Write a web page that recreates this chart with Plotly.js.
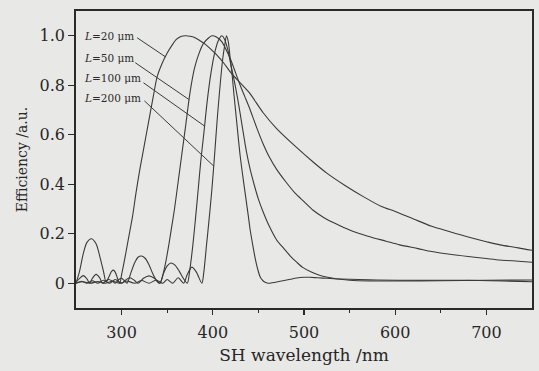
<!DOCTYPE html>
<html>
<head>
<meta charset="utf-8">
<script src="https://cdn.plot.ly/plotly-3.0.1.min.js"></script>
<style>html,body{margin:0;padding:0;background:#e8e8e6;}</style>
</head>
<body>
<div id="chart" style="width:539px;height:371px;"></div>
<script>
// ---- data ----
const seriesNames = ["L=20 μm", "L=50 μm", "L=100 μm", "L=200 μm"];

const wl20 = [250,254,258,262,267,272,276,280,283,286,289,291,293,296,298,300,303,306,309,312,316,320,323,327,331,335,339,344,350,355,360,365,370,375,380,386,392,398,405,412,420,430,440,455,470,490,510,525,545,565,585,600,620,640,660,680,700,715,735,750];
const eff20 = [0,0.05,0.12,0.165,0.18,0.16,0.11,0.05,0.005,0.025,0.048,0.053,0.045,0.015,0,0.035,0.09,0.15,0.21,0.27,0.37,0.46,0.52,0.6,0.68,0.76,0.835,0.885,0.93,0.96,0.985,0.997,1.0,0.998,0.993,0.98,0.965,0.945,0.92,0.89,0.85,0.81,0.77,0.69,0.625,0.555,0.49,0.445,0.395,0.35,0.31,0.29,0.26,0.23,0.208,0.187,0.168,0.155,0.143,0.133];

const wl50 = [250,254,258,262,265,268,272,276,279,283,286,290,293,297,300,303,306,310,314,318,322,326,330,334,338,342,345,348,352,355,358,362,366,370,375,380,385,390,395,399,404,410,415,420,425,430,435,440,448,455,462,470,480,490,500,510,522,535,550,570,590,605,625,640,660,680,700,715,735,750];
const eff50 = [0.005,0.02,0.031,0.018,0,0.02,0.036,0.022,0,0.01,0.015,0.008,0,0.015,0.02,0.01,0,0.04,0.08,0.105,0.11,0.1,0.075,0.04,0.012,0,0.03,0.078,0.16,0.23,0.3,0.41,0.52,0.63,0.77,0.87,0.93,0.97,0.99,1.0,0.995,0.975,0.94,0.9,0.85,0.8,0.755,0.71,0.63,0.565,0.51,0.46,0.41,0.365,0.33,0.295,0.265,0.24,0.215,0.19,0.17,0.155,0.14,0.128,0.117,0.108,0.1,0.094,0.089,0.085];

const wl100 = [250,256,262,268,274,280,287,293,300,304,309,314,318,324,330,336,342,346,350,354,358,363,368,372,375,378,381,384,387,390,394,398,402,406,410,413,416,420,424,428,432,437,441,446,450,455,462,470,478,485,492,499,508,517,526,535,550,572,600,650,700,750];
const eff100 = [0,0.008,0,0.01,0,0.012,0,0.015,0,0.012,0.022,0.012,0,0.02,0.03,0.02,0,0.04,0.07,0.082,0.075,0.05,0.018,0,0.06,0.15,0.26,0.38,0.5,0.6,0.74,0.85,0.93,0.98,1.0,0.985,0.95,0.88,0.81,0.73,0.64,0.53,0.46,0.39,0.34,0.29,0.23,0.175,0.14,0.11,0.085,0.063,0.045,0.032,0.024,0.018,0.012,0.009,0.009,0.01,0.012,0.013];

const wl200 = [250,258,266,274,282,290,298,306,314,322,330,338,345,350,356,362,368,372,377,382,388,390,393,396,399,402,405,408,411,413,415,417,419,421,423,426,430,433,436,439,441,444,446,449,452,455,458,461,465,470,477,485,492,500,506,515,525,540,560,580,620,680,750];
const eff200 = [0,0.006,0,0.007,0,0.008,0,0.009,0,0.011,0,0.013,0,0.015,0,0.022,0,0.035,0.065,0.045,0,0.04,0.15,0.26,0.38,0.52,0.67,0.8,0.91,0.96,1.0,0.975,0.91,0.85,0.77,0.66,0.515,0.43,0.35,0.27,0.215,0.15,0.11,0.06,0.025,0.01,0.003,0,0.002,0.005,0.01,0.016,0.021,0.024,0.024,0.022,0.02,0.017,0.015,0.013,0.012,0.012,0.006];

const xTickVals = [300,400,500,600,700];
const xTickText = ["300","400","500","600","700"];
const xMinorVals = [350,450,550,650];
const yTickVals = [0,0.2,0.4,0.6,0.8,1.0];
const yTickText = ["0","0.2","0.4","0.6","0.8","1.0"];

// label text positions (data units) and leader line starts / targets
const labelX = 257;
const labelY = [1.0, 0.91, 0.83, 0.75];
const leaderStartX = [317, 315, 324, 325];
const leaderStartY = [0.992, 0.891, 0.81, 0.737];
const leaderTargetWl = [348, 374, 391, 401];

// ---- build ----
const allWl = [wl20, wl50, wl100, wl200];
const allEff = [eff20, eff50, eff100, eff200];
const lineColor = "#3a3a3a";

function interp(xs, ys, x) {
  for (let i = 0; i < xs.length - 1; i++) {
    if (x >= xs[i] && x <= xs[i+1]) {
      const t = (x - xs[i]) / (xs[i+1] - xs[i]);
      return ys[i] + t * (ys[i+1] - ys[i]);
    }
  }
  return ys[ys.length-1];
}

const traces = allWl.map((w, i) => ({
  x: w, y: allEff[i], type: "scatter", mode: "lines", name: seriesNames[i],
  line: {color: lineColor, width: 1.1, shape: "spline", smoothing: 0.8},
  hoverinfo: "skip"
}));

const serif = "DejaVu Serif, Liberation Serif, serif";
const annotations = seriesNames.map((n, i) => ({
  x: labelX, y: labelY[i], xref: "x", yref: "y",
  text: "<i>L</i>=" + n.slice(2),
  showarrow: false, xanchor: "left", yanchor: "middle",
  font: {family: serif, size: 10.5, color: "#2a2a2a"}
}));

const shapes = seriesNames.map((n, i) => ({
  type: "line", xref: "x", yref: "y",
  x0: leaderStartX[i], y0: leaderStartY[i],
  x1: leaderTargetWl[i], y1: interp(allWl[i], allEff[i], leaderTargetWl[i]),
  line: {color: lineColor, width: 1}
}));

const layout = {
  width: 539, height: 371,
  margin: {l: 76, r: 7, t: 11, b: 63},
  paper_bgcolor: "#e8e8e6", plot_bgcolor: "#e8e8e6",
  showlegend: false,
  font: {family: serif, color: "#262626", size: 16},
  xaxis: {
    range: [250, 750], showgrid: false, zeroline: false,
    showline: true, mirror: true, linecolor: "#2a2a2a", linewidth: 1.8,
    ticks: "outside", ticklen: 5, tickwidth: 1.3, tickcolor: "#2a2a2a",
    tickmode: "array", tickvals: xTickVals, ticktext: xTickText,
    ticklabelstandoff: 4,
    minor: {tickmode: "array", tickvals: xMinorVals, ticks: "outside", ticklen: 3, tickwidth: 1, tickcolor: "#2a2a2a", showgrid: false},
    tickfont: {family: serif, size: 16, color: "#262626"},
    title: {text: "SH wavelength /nm", font: {family: serif, size: 17, color: "#262626"}, standoff: 8},
    automargin: false
  },
  yaxis: {
    range: [-0.1, 1.1], showgrid: false, zeroline: false,
    showline: true, mirror: true, linecolor: "#2a2a2a", linewidth: 1.8,
    ticks: "outside", ticklen: 6, tickwidth: 1.3, tickcolor: "#2a2a2a",
    tickmode: "array", tickvals: yTickVals, ticktext: yTickText,
    tickfont: {family: serif, size: 16, color: "#262626"},
    title: {text: "Efficiency /a.u.", font: {family: serif, size: 14, color: "#262626"}, standoff: 9},
    automargin: false
  },
  annotations: annotations,
  shapes: shapes
};

Plotly.newPlot("chart", traces, layout, {staticPlot: true, displayModeBar: false});
</script>
</body>
</html>
